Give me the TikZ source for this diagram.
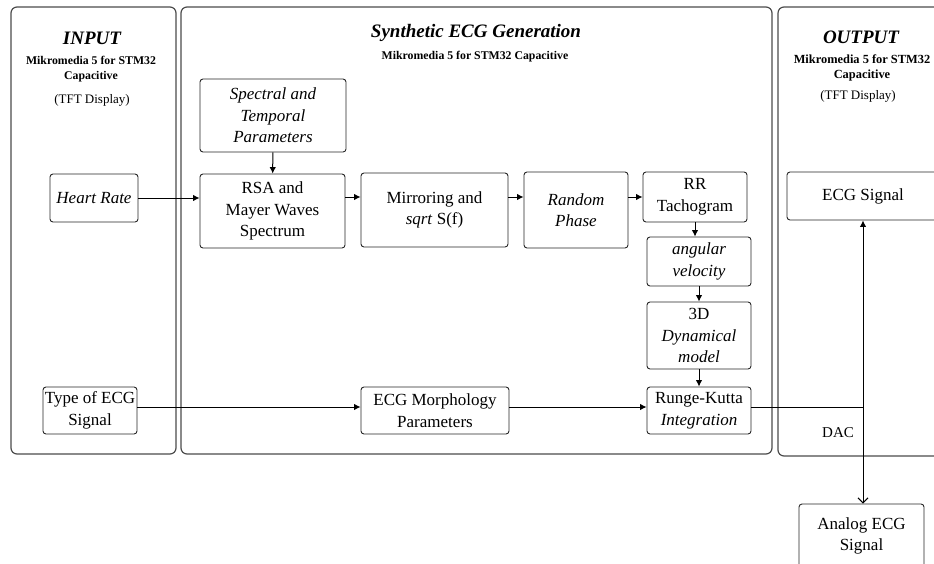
\documentclass[tikz,border=0pt]{standalone}
\usepackage{fontspec}
\setmainfont{Liberation Serif}
\usetikzlibrary{arrows.meta,calc}
\newcommand\boxfont{\fontsize{17}{21.5}\selectfont}
\begin{document}
\begin{tikzpicture}[x=1pt,y=-1pt,
  panel/.style={draw=black!70, line width=1.2pt, rounded corners=6pt},
  blk/.style={draw=black!85, line width=0.9pt, rounded corners=3pt, align=center, inner sep=0pt, font=\boxfont},
  iblk/.style={blk, font=\boxfont\itshape},
  conn/.style={draw=black, line width=1pt},
  arr/.style={conn, -{Latex[length=6.5pt,width=6.5pt]}},
  ttl/.style={font=\fontsize{19}{22}\selectfont\bfseries\itshape},
  sub/.style={font=\fontsize{11.8}{14.5}\selectfont\bfseries, align=center},
  tft/.style={font=\fontsize{13}{15}\selectfont}]
\useasboundingbox (0,0) rectangle (934,563);
\clip (0,0) rectangle (934,563);

% panels
\draw[panel] (11,7) rectangle (176,454);
\draw[panel] (181,7) rectangle (772,454);
\draw[panel] (778,7) rectangle (965,456);

% titles
\node[ttl] (tin) at (92,38) {INPUT};
\node[sub] (sin) at (91,69) {Mikromedia 5 for STM32\\Capacitive};
\node[tft] (din) at (92,100) {(TFT Display)};
\node[ttl] (tsy) at (476,33) {Synthetic ECG Generation};
\node[sub] (ssy) at (475,57) {Mikromedia 5 for STM32 Capacitive};
\node[ttl] (tout) at (861,37) {OUTPUT};
\node[sub, font=\fontsize{12.4}{15}\selectfont\bfseries] (sout) at (862,67.5) {Mikromedia 5 for STM32\\Capacitive};
\node[tft] (dout) at (858,96) {(TFT Display)};

% blocks
\node[iblk, minimum width=146pt, minimum height=73pt] (spec) at (273,115.5) {Spectral and\\Temporal\\Parameters};
\node[iblk, minimum width=88pt, minimum height=48pt] (hr) at (94,198) {Heart Rate};
\node[blk, minimum width=145pt, minimum height=74pt] (rsa) at (272.5,211) {RSA and\\Mayer Waves\\Spectrum};
\node[blk, minimum width=147pt, minimum height=74pt] (mir) at (434.5,210) {Mirroring and\\\textit{sqrt} S(f)};
\node[iblk, minimum width=104pt, minimum height=76pt] (rp) at (576,210) {Random\\Phase};
\node[blk, minimum width=104pt, minimum height=50pt] (rr) at (695,197) {RR\\Tachogram};
\node[iblk, minimum width=104pt, minimum height=49pt] (av) at (699,261.5) {angular\\velocity};
\node[blk, minimum width=104pt, minimum height=67pt] (dm) at (699,335.5) {3D\\\textit{Dynamical}\\\textit{model}};
\node[blk, minimum width=104pt, minimum height=47pt] (rk) at (699,410.5) {Runge-Kutta\\\textit{Integration}};
\node[blk, minimum width=148pt, minimum height=47pt] (morph) at (435,410.5) {ECG Morphology\\Parameters};
\node[blk, minimum width=94pt, minimum height=47pt] (type) at (90,410.5) {Type of ECG\\Signal};
\node[blk, minimum width=152pt, minimum height=48pt] (ecg) at (863,196) {ECG Signal};
\node[blk, minimum width=125pt, minimum height=64pt] (analog) at (861.5,536) {Analog ECG\\Signal};
\node[font=\fontsize{15}{18}\selectfont] (dac) at (838,433) {DAC};

% connectors
\draw[arr] (spec) -- (rsa);
\draw[arr] (hr.east) -- (hr.east -| rsa.west);
\draw[arr] (rsa.east |- rr.west) -- (mir.west |- rr.west);
\draw[arr] (mir.east |- rr.west) -- (rp.west |- rr.west);
\draw[arr] (rp.east |- rr.west) -- (rr.west);
\draw[arr] (rr.south) -- (rr.south |- av.north);
\draw[arr] (av) -- (dm);
\draw[arr] (dm) -- (rk);
\draw[arr] ([yshift=3.5pt]type.east) -- ([yshift=3.5pt]morph.west);
\draw[arr] ([yshift=3.5pt]morph.east) -- ([yshift=3.5pt]rk.west);
\coordinate (j) at (863,407);
\draw[conn] ([yshift=3.5pt]rk.east) -- (j);
\draw[arr] (j) -- (j |- ecg.south);
\draw[conn, -{Straight Barb[length=5pt,width=10pt]}] (j) -- (j |- analog.north);
\end{tikzpicture}
\end{document}
